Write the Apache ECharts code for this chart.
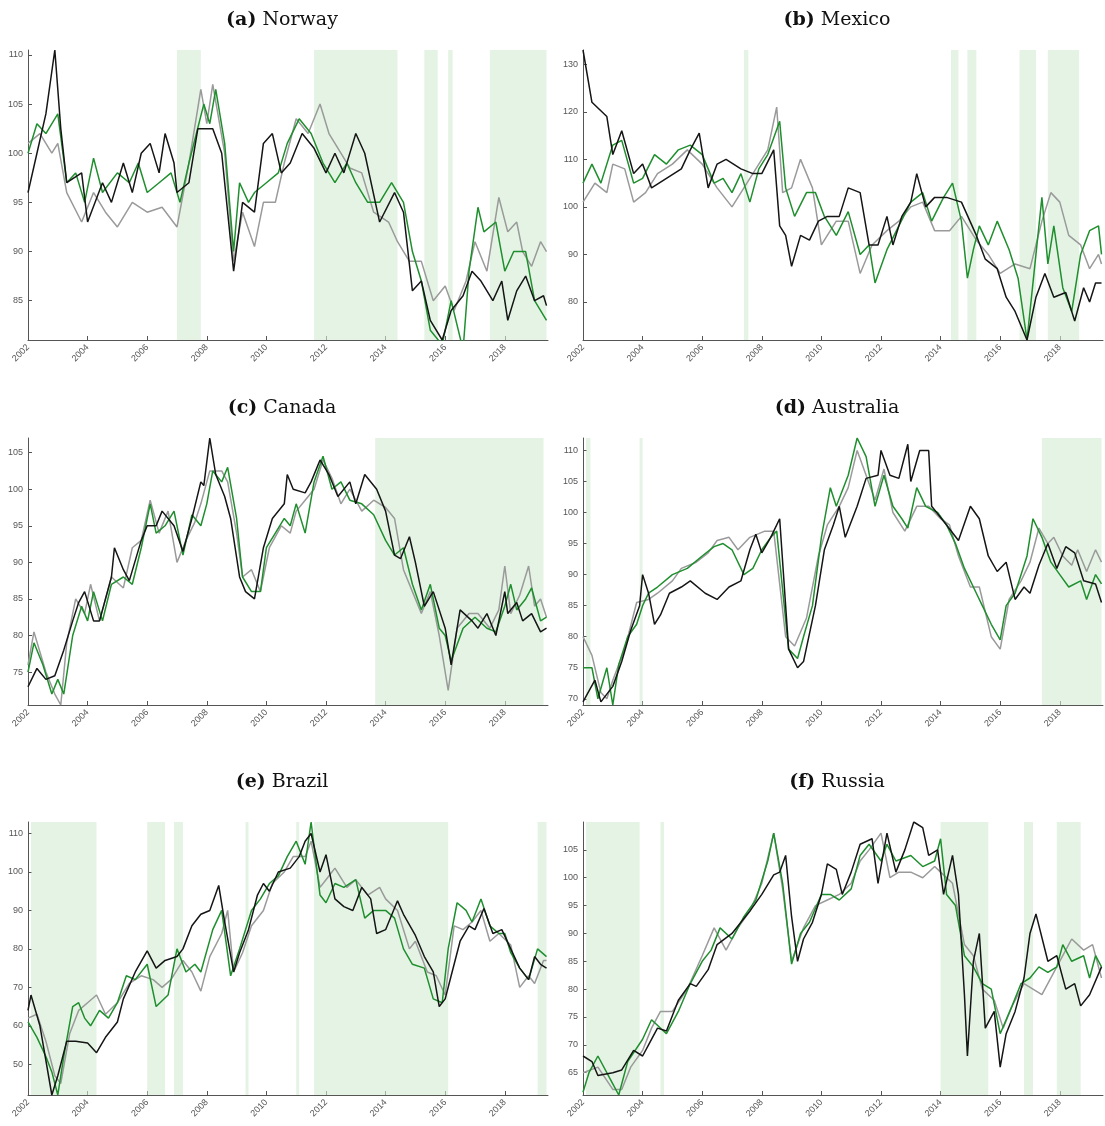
<!DOCTYPE html>
<html><head><meta charset="utf-8">
<script src="https://cdn.jsdelivr.net/npm/echarts@6/dist/echarts.min.js"></script>
<style>html,body{margin:0;background:#fff}#c{width:1105px;height:1126px}</style>
</head><body><div id="c"></div>
<script>
// panel titles and y scales
var titles = [['(a)', 'Norway'], ['(b)', 'Mexico'], ['(c)', 'Canada'], ['(d)', 'Australia'], ['(e)', 'Brazil'], ['(f)', 'Russia']];
var yMin = [81, 72, 70.5, 69, 42, 61];
var yMax = [110.5, 133, 107, 112, 113, 110];
var yTicks = [[85, 90, 95, 100, 105, 110], [80, 90, 100, 110, 120, 130], [75, 80, 85, 90, 95, 100, 105],
  [70, 75, 80, 85, 90, 95, 100, 105, 110], [50, 60, 70, 80, 90, 100, 110], [65, 70, 75, 80, 85, 90, 95, 100, 105]];
var xTicks = [2002, 2004, 2006, 2008, 2010, 2012, 2014, 2016, 2018];

// shaded periods [start, end]
var shadeNorway = [[2007.0, 2007.8], [2011.6, 2014.4], [2015.3, 2015.75], [2016.1, 2016.25], [2017.5, 2019.4]];
var shadeMexico = [[2007.4, 2007.55], [2014.35, 2014.6], [2014.9, 2015.2], [2016.65, 2017.2], [2017.6, 2018.65]];
var shadeCanada = [[2013.65, 2019.3]];
var shadeAustralia = [[2002.1, 2002.25], [2003.9, 2004.0], [2017.4, 2019.4]];
var shadeBrazil = [[2002.1, 2004.3], [2006.0, 2006.6], [2006.9, 2007.2], [2009.3, 2009.4], [2011.0, 2011.1], [2011.6, 2016.1], [2019.1, 2019.4]];
var shadeRussia = [[2002.1, 2003.9], [2004.6, 2004.72], [2014.0, 2015.6], [2016.8, 2017.1], [2017.9, 2018.7]];

var norwayBlack = [[2002,96],[2002.3,100],[2002.6,104],[2002.9,110.5],[2003.1,102.5],[2003.3,97],[2003.8,98],[2004,93],[2004.5,97],[2004.8,95],[2005.2,99],[2005.5,96],[2005.8,100],[2006.1,101],[2006.4,98],[2006.6,102],[2006.9,99],[2007,96],[2007.4,97],[2007.7,102.5],[2008.2,102.5],[2008.5,100],[2008.9,88],[2009.2,95],[2009.6,94],[2009.9,101],[2010.2,102],[2010.5,98],[2010.8,99],[2011.2,102],[2011.6,100.5],[2012,98],[2012.3,100],[2012.6,98],[2013,102],[2013.3,100],[2013.8,93],[2014.3,96],[2014.6,94],[2014.9,86],[2015.2,87],[2015.5,83],[2015.9,81],[2016.2,84],[2016.6,85.5],[2016.9,88],[2017.2,87],[2017.6,85],[2017.9,87],[2018.1,83],[2018.4,86],[2018.7,87.5],[2019,85],[2019.3,85.5],[2019.4,84.5]];
var norwayGreen = [[2002,100],[2002.3,103],[2002.6,102],[2003,104],[2003.3,97],[2003.6,98],[2003.9,95],[2004.2,99.5],[2004.5,96],[2005,98],[2005.4,97],[2005.7,99],[2006,96],[2006.4,97],[2006.8,98],[2007.1,95],[2007.4,99],[2007.9,105],[2008.1,103],[2008.3,106.5],[2008.6,101],[2008.9,90],[2009.1,97],[2009.4,95],[2009.6,96],[2010,97],[2010.4,98],[2010.7,101],[2011.1,103.5],[2011.5,102],[2011.9,99],[2012.3,97],[2012.7,99],[2013,97],[2013.4,95],[2013.8,95],[2014.2,97],[2014.6,95],[2014.9,90],[2015.2,87],[2015.5,82],[2015.9,80.5],[2016.2,85],[2016.6,80],[2016.8,88],[2017.1,94.5],[2017.3,92],[2017.7,93],[2018,88],[2018.3,90],[2018.7,90],[2019,85],[2019.4,83]];
var norwayGray = [[2002,101],[2002.4,102],[2002.8,100],[2003,101],[2003.3,96],[2003.8,93],[2004.2,96],[2004.6,94],[2005,92.5],[2005.5,95],[2006,94],[2006.5,94.5],[2007,92.5],[2007.4,99],[2007.8,106.5],[2008,103],[2008.2,107],[2008.6,100],[2008.9,89],[2009.2,94],[2009.6,90.5],[2009.9,95],[2010.3,95],[2010.6,99],[2011,103.5],[2011.4,102],[2011.8,105],[2012.1,102],[2012.5,100],[2012.8,98.5],[2013.2,98],[2013.6,94],[2014.1,93],[2014.4,91],[2014.8,89],[2015.2,89],[2015.6,85],[2016,86.5],[2016.3,84],[2016.7,87],[2017,91],[2017.4,88],[2017.8,95.5],[2018.1,92],[2018.4,93],[2018.6,90],[2018.9,88.5],[2019.2,91],[2019.4,90]];

var mexicoBlack = [[2002,133],[2002.3,122],[2002.8,119],[2003,111],[2003.3,116],[2003.7,107],[2004,109],[2004.3,104],[2004.8,106],[2005.3,108],[2005.6,112],[2005.9,115.5],[2006.2,104],[2006.5,109],[2006.8,110],[2007.3,108],[2007.7,107],[2008,107],[2008.4,112],[2008.6,96],[2008.8,94],[2009,87.5],[2009.3,94],[2009.6,93],[2009.9,97],[2010.2,98],[2010.6,98],[2010.9,104],[2011.3,103],[2011.6,92],[2011.9,92],[2012.2,98],[2012.4,92],[2012.7,98],[2013,101],[2013.2,107],[2013.5,100],[2013.8,102],[2014.2,102],[2014.7,101],[2015.2,94],[2015.5,89],[2015.9,87],[2016.2,81],[2016.5,78],[2016.9,72],[2017.2,81],[2017.5,86],[2017.8,81],[2018.2,82],[2018.5,76],[2018.8,83],[2019,80],[2019.2,84],[2019.4,84]];
var mexicoGreen = [[2002,105],[2002.3,109],[2002.6,105],[2003,113],[2003.3,114],[2003.7,105],[2004,106],[2004.4,111],[2004.8,109],[2005.2,112],[2005.6,113],[2006,111],[2006.4,105],[2006.7,106],[2007,103],[2007.3,107],[2007.6,101],[2007.9,108],[2008.2,111],[2008.6,118],[2008.8,104],[2009.1,98],[2009.5,103],[2009.8,103],[2010.1,98],[2010.5,94],[2010.9,99],[2011.3,90],[2011.6,92],[2011.8,84],[2012.2,91],[2012.6,96],[2013,101],[2013.4,103],[2013.7,97],[2014.1,102],[2014.4,105],[2014.7,97],[2014.9,85],[2015.1,91],[2015.3,96],[2015.6,92],[2015.9,97],[2016.3,91],[2016.6,85],[2016.9,72],[2017.2,90],[2017.4,102],[2017.6,88],[2017.8,96],[2018.1,83],[2018.4,78],[2018.7,90],[2019,95],[2019.3,96],[2019.4,90]];
var mexicoGray = [[2002,101],[2002.4,105],[2002.8,103],[2003,109],[2003.4,108],[2003.7,101],[2004.1,103],[2004.5,107],[2005,109],[2005.5,112],[2006,109],[2006.5,104],[2007,100],[2007.4,104],[2007.8,108],[2008.2,112],[2008.5,121],[2008.7,103],[2009,104],[2009.3,110],[2009.7,104],[2010,92],[2010.5,97],[2010.9,97],[2011.3,86],[2011.7,92],[2012.2,95],[2012.6,97],[2013,100],[2013.4,101],[2013.8,95],[2014.3,95],[2014.7,98],[2015.2,93],[2015.6,90],[2016,86],[2016.5,88],[2017,87],[2017.4,97],[2017.7,103],[2018,101],[2018.3,94],[2018.7,92],[2019,87],[2019.3,90],[2019.4,88]];

var canadaBlack = [[2002,73],[2002.3,75.5],[2002.6,74],[2002.9,74.5],[2003.2,78],[2003.5,82],[2003.7,84.5],[2003.9,86],[2004.2,82],[2004.4,82],[2004.8,88],[2004.9,92],[2005.2,89],[2005.4,87.5],[2005.8,93],[2006,95],[2006.3,95],[2006.5,97],[2006.9,95],[2007.2,91.5],[2007.5,96],[2007.8,101],[2007.9,100.5],[2008.1,107],[2008.3,102],[2008.6,99],[2008.8,96],[2009.1,88],[2009.3,86],[2009.6,85],[2009.9,92],[2010.2,96],[2010.6,98],[2010.7,102],[2010.9,100],[2011.3,99.5],[2011.5,101],[2011.8,104],[2012.1,102],[2012.4,99],[2012.8,101],[2013,98],[2013.3,102],[2013.7,100],[2014,97],[2014.3,91],[2014.5,90.5],[2014.8,93.5],[2015,90],[2015.3,84],[2015.6,86],[2016,81],[2016.2,76],[2016.5,83.5],[2016.9,82],[2017.1,81],[2017.4,83],[2017.7,80],[2018,86],[2018.1,83],[2018.4,84.5],[2018.6,82],[2018.9,83],[2019.2,80.5],[2019.4,81]];
var canadaGreen = [[2002,75],[2002.2,79],[2002.5,76],[2002.8,72],[2003,74],[2003.2,72],[2003.5,80],[2003.8,84],[2004,82],[2004.2,86],[2004.5,82],[2004.8,87],[2005.2,88],[2005.5,87],[2005.8,92],[2006.1,98],[2006.3,94],[2006.6,95],[2006.9,97],[2007.2,91],[2007.5,96.5],[2007.8,95],[2008,98],[2008.2,102.5],[2008.5,101],[2008.7,103],[2009,96],[2009.2,88],[2009.5,86],[2009.8,86],[2010,92],[2010.3,94],[2010.6,96],[2010.8,95],[2011,98],[2011.3,94],[2011.6,101],[2011.9,104.5],[2012.2,100],[2012.5,101],[2012.8,98.5],[2013.2,98],[2013.6,96.5],[2014,93],[2014.3,91],[2014.6,92],[2014.9,87],[2015.2,83.5],[2015.5,87],[2015.8,81],[2016,80],[2016.2,76.5],[2016.6,81],[2017,82.5],[2017.4,81],[2017.7,80.5],[2018,84],[2018.2,87],[2018.4,83.5],[2018.7,85],[2018.9,86.5],[2019.2,82],[2019.4,82.5]];
var canadaGray = [[2002,76],[2002.2,80.5],[2002.6,75],[2002.9,72],[2003.1,70.5],[2003.3,79],[2003.6,85],[2003.9,83],[2004.1,87],[2004.4,82],[2004.8,88],[2005.2,86.5],[2005.5,92],[2005.8,93],[2006.1,98.5],[2006.4,94],[2006.7,97],[2007,90],[2007.3,93],[2007.6,95.5],[2007.8,98],[2008.1,102.5],[2008.5,102.5],[2008.7,101],[2009,94],[2009.2,88],[2009.5,89],[2009.8,86],[2010.1,92],[2010.5,95],[2010.8,94],[2011,97],[2011.3,98.5],[2011.6,100],[2011.9,104],[2012.2,101.5],[2012.5,98],[2012.8,100],[2013.2,97],[2013.6,98.5],[2014,97.5],[2014.3,96],[2014.6,89],[2014.9,86],[2015.2,83],[2015.5,86],[2015.8,80],[2016.1,72.5],[2016.4,81],[2016.8,83],[2017.1,83],[2017.5,81],[2017.8,83.5],[2018,89.5],[2018.2,83],[2018.5,85.5],[2018.8,89.5],[2019,84],[2019.2,85],[2019.4,82.5]];

var australiaBlack = [[2002,69.5],[2002.4,73],[2002.6,69.5],[2003,72],[2003.3,76],[2003.6,81],[2003.9,85],[2004,90],[2004.2,87],[2004.4,82],[2004.6,83.5],[2004.9,87],[2005.3,88],[2005.6,89],[2006.1,87],[2006.5,86],[2006.9,88],[2007.3,89],[2007.6,94],[2007.8,96.5],[2008,93.5],[2008.3,96],[2008.6,99],[2008.9,78],[2009.2,75],[2009.4,76],[2009.8,85],[2010.1,94],[2010.4,98],[2010.6,101],[2010.8,96],[2011.2,101],[2011.5,105.5],[2011.9,106],[2012,110],[2012.3,106],[2012.6,105.5],[2012.9,111],[2013,105],[2013.3,110],[2013.6,110],[2013.7,101],[2014.2,98],[2014.6,95.5],[2015,101],[2015.3,99],[2015.6,93],[2015.9,90.5],[2016.2,92],[2016.5,86],[2016.8,88],[2017,87],[2017.3,91.5],[2017.6,95],[2017.9,91],[2018.2,94.5],[2018.5,93.5],[2018.8,89],[2019.2,88.5],[2019.4,85.5]];
var australiaGreen = [[2002,75],[2002.3,75],[2002.5,70],[2002.8,75],[2003,69],[2003.2,75.5],[2003.5,80],[2003.8,82],[2004,85],[2004.2,87],[2004.5,88],[2005,90],[2005.5,91],[2006,93],[2006.4,94.5],[2006.7,95],[2007,94],[2007.4,90],[2007.7,91],[2008,94],[2008.3,96],[2008.5,97],[2008.9,78],[2009.2,76.5],[2009.4,80],[2009.7,85],[2010,96],[2010.3,104],[2010.5,101],[2010.9,106],[2011.2,112],[2011.5,109],[2011.8,101],[2012.1,106],[2012.4,101],[2012.7,99],[2012.9,97.5],[2013.2,104],[2013.5,101],[2013.9,100],[2014.2,98],[2014.5,95],[2014.8,91],[2015.2,87],[2015.4,85],[2015.7,82],[2016,79.5],[2016.2,85],[2016.5,87],[2016.9,93],[2017.1,99],[2017.4,96],[2017.7,92],[2018,90],[2018.3,88],[2018.7,89],[2018.9,86],[2019.2,90],[2019.4,88.5]];
var australiaGray = [[2002,80],[2002.3,77],[2002.6,71],[2002.8,70],[2003,73],[2003.4,78],[2003.8,85.5],[2004.2,86],[2004.5,87],[2005,89],[2005.3,91],[2005.8,92],[2006.2,93.5],[2006.5,95.5],[2006.9,96],[2007.2,94],[2007.6,96],[2008.1,97],[2008.4,97],[2008.8,80],[2009.1,78.5],[2009.5,83],[2009.9,93],[2010.2,98],[2010.6,101],[2010.9,104],[2011.2,110],[2011.5,106],[2011.8,102],[2012.1,107],[2012.4,100],[2012.8,97],[2013.2,101],[2013.6,101],[2014,99],[2014.3,98],[2014.6,93],[2015,88],[2015.3,88],[2015.7,80],[2016,78],[2016.3,86],[2016.7,89],[2017,92],[2017.3,97.5],[2017.6,95],[2017.8,96],[2018.1,93],[2018.4,91.5],[2018.6,94],[2018.9,90.5],[2019.2,94],[2019.4,92]];

var brazilBlack = [[2002,64],[2002.1,68],[2002.4,60],[2002.8,42],[2003,47],[2003.3,56],[2003.6,56],[2004,55.5],[2004.3,53],[2004.6,57],[2005,61],[2005.2,67],[2005.6,74],[2006,79.5],[2006.3,75],[2006.6,77],[2007,78],[2007.2,80],[2007.5,86],[2007.8,89],[2008.1,90],[2008.4,96.5],[2008.6,87],[2008.9,74],[2009.1,79],[2009.4,85],[2009.7,94],[2009.9,97],[2010.1,95],[2010.4,100],[2010.8,101],[2011.1,104],[2011.3,108],[2011.5,110],[2011.8,100],[2012,104.5],[2012.3,93],[2012.6,91],[2012.9,90],[2013.2,96],[2013.5,93],[2013.7,84],[2014,85],[2014.4,92.5],[2014.6,89],[2015,83.5],[2015.3,78],[2015.6,74],[2015.8,65],[2016,67],[2016.2,73],[2016.5,82],[2016.8,86],[2017,85],[2017.3,90.5],[2017.6,84],[2017.9,85],[2018.2,80],[2018.5,75],[2018.8,72],[2019,78],[2019.2,76],[2019.4,75]];
var brazilGreen = [[2002,61],[2002.3,57],[2002.6,52],[2002.8,48],[2003,42],[2003.2,52],[2003.5,65],[2003.7,66],[2003.9,62],[2004.1,60],[2004.4,64],[2004.7,62],[2005,66],[2005.3,73],[2005.6,72],[2006,76],[2006.3,65],[2006.7,68],[2007,80],[2007.3,74],[2007.6,76],[2007.8,74],[2008.2,85],[2008.5,90],[2008.8,73],[2009.1,80],[2009.5,90],[2009.8,93],[2010.1,97],[2010.4,99],[2010.7,104],[2011,108],[2011.3,102],[2011.5,113],[2011.8,94],[2012,92],[2012.3,97],[2012.6,96],[2013,98],[2013.3,88],[2013.6,90],[2014,90],[2014.3,88],[2014.6,80],[2014.9,76],[2015.3,75],[2015.6,67],[2015.9,66],[2016.1,80],[2016.4,92],[2016.7,90],[2016.9,87],[2017.2,93],[2017.5,86],[2017.8,84],[2018,84],[2018.2,79],[2018.5,75],[2018.8,72],[2019.1,80],[2019.4,78]];
var brazilGray = [[2002,62],[2002.3,63],[2002.6,56],[2002.9,47],[2003.1,45],[2003.4,58],[2003.7,64],[2004,66],[2004.3,68],[2004.6,63],[2005,66],[2005.4,71],[2005.8,73],[2006.2,72],[2006.5,70],[2006.8,72],[2007.2,77],[2007.5,74],[2007.8,69],[2008.1,78],[2008.5,84],[2008.7,90],[2008.9,74],[2009.2,79],[2009.5,86],[2009.9,90],[2010.2,97],[2010.6,100],[2010.9,104],[2011.3,104],[2011.5,108],[2011.8,96],[2012,98],[2012.3,101],[2012.7,96],[2013,98],[2013.4,94],[2013.8,96],[2014,93],[2014.4,90],[2014.8,80],[2015,82],[2015.4,74],[2015.7,73],[2016,68],[2016.3,86],[2016.6,85],[2016.9,87],[2017.2,90],[2017.5,82],[2017.8,84],[2018.2,81],[2018.5,70],[2018.8,73],[2019,71],[2019.3,77],[2019.4,77]];

var russiaBlack = [[2002,68],[2002.3,67],[2002.5,64.5],[2003,65],[2003.3,65.5],[2003.7,69],[2004,68],[2004.2,70],[2004.5,73],[2004.8,72.5],[2005.2,78],[2005.6,81],[2005.8,80.5],[2006.2,83.5],[2006.5,88],[2007,90],[2007.3,92],[2007.6,94],[2008,97],[2008.4,100.5],[2008.6,101],[2008.8,104],[2009,93],[2009.2,85],[2009.4,89],[2009.7,92],[2010,97],[2010.2,102.5],[2010.5,101.5],[2010.7,97],[2011,101],[2011.3,106],[2011.7,107],[2011.9,99],[2012.2,108],[2012.5,101],[2012.8,105],[2013.1,110],[2013.4,109],[2013.6,104],[2013.9,105],[2014.1,97],[2014.4,104],[2014.6,97],[2014.8,79],[2014.9,68],[2015.1,85],[2015.3,90],[2015.5,73],[2015.8,76],[2016,66],[2016.2,72],[2016.5,76],[2016.8,82],[2017,90],[2017.2,93.5],[2017.6,85],[2017.9,86],[2018.2,80],[2018.5,81],[2018.7,77],[2019,79],[2019.4,84]];
var russiaGreen = [[2002,61.5],[2002.2,65],[2002.5,68],[2003,63],[2003.2,61],[2003.5,67],[2004,71],[2004.3,74.5],[2004.8,72],[2005.2,76],[2005.6,81],[2006,85],[2006.3,87],[2006.6,91],[2007,89],[2007.4,93],[2007.8,96],[2008.2,103],[2008.4,108],[2008.7,99],[2009,84.5],[2009.3,90],[2009.6,92],[2010,97],[2010.3,97],[2010.6,96],[2011,98],[2011.3,104],[2011.6,106],[2012,103],[2012.2,106],[2012.5,103],[2013,104],[2013.4,102],[2013.8,103],[2014,107],[2014.2,97],[2014.5,95],[2014.8,86],[2015.1,84],[2015.4,81],[2015.7,80],[2016,72],[2016.4,77],[2016.7,81],[2017,82],[2017.3,84],[2017.6,83],[2017.9,84],[2018.1,88],[2018.4,85],[2018.8,86],[2019,82],[2019.2,86],[2019.4,84]];
var russiaGray = [[2002,65],[2002.5,66],[2003,62],[2003.3,62],[2003.6,66],[2004,69],[2004.3,73],[2004.6,76],[2005,76],[2005.5,80],[2006,86],[2006.4,91],[2006.8,87],[2007.2,91],[2007.6,94],[2008,99],[2008.4,108],[2008.7,98],[2009,85],[2009.4,91],[2009.8,95],[2010.2,96],[2010.6,97],[2011,99],[2011.3,103],[2011.6,105],[2012,108],[2012.3,100],[2012.6,101],[2013,101],[2013.4,100],[2013.8,102],[2014,101],[2014.4,99],[2014.8,88],[2015.1,86],[2015.4,80],[2015.8,78],[2016.1,73],[2016.4,77],[2016.8,81],[2017.1,80],[2017.4,79],[2017.8,83],[2018.1,86],[2018.4,89],[2018.8,87],[2019.1,88],[2019.4,82]];

var blacks = [norwayBlack, mexicoBlack, canadaBlack, australiaBlack, brazilBlack, russiaBlack];
var greens = [norwayGreen, mexicoGreen, canadaGreen, australiaGreen, brazilGreen, russiaGreen];
var grays = [norwayGray, mexicoGray, canadaGray, australiaGray, brazilGray, russiaGray];
var shades = [shadeNorway, shadeMexico, shadeCanada, shadeAustralia, shadeBrazil, shadeRussia];

var chart = echarts.init(document.getElementById('c'));
var rowTop = [50, 438, 822], rowH = [290, 267, 273], titleY = [6, 394, 768];
var grids = [], xAxes = [], yAxes = [], series = [], tit = [];
for (var i = 0; i < 6; i++) {
  var r = Math.floor(i / 2), c = i % 2;
  grids.push({left: c ? 583 : 28, width: 520, top: rowTop[r], height: rowH[r]});
  tit.push({text: '{b|' + titles[i][0] + '} ' + titles[i][1], left: c ? 832 : 277, top: titleY[r], textAlign: 'center',
    textStyle: {fontFamily: 'DejaVu Serif', fontSize: 19, fontWeight: 'normal', color: '#111',
      rich: {b: {fontFamily: 'DejaVu Serif', fontSize: 19, fontWeight: 'bold', color: '#111'}}}});
  xAxes.push({type: 'value', gridIndex: i, min: 2002, max: 2019.45, splitLine: {show: false},
    axisLine: {lineStyle: {color: '#555'}}, axisTick: {customValues: xTicks, length: 4, inside: true},
    axisLabel: {customValues: xTicks, rotate: 45, fontSize: 9, color: '#555', margin: 6,
      formatter: function (v) { return String(v); }}});
  yAxes.push({type: 'value', gridIndex: i, min: yMin[i], max: yMax[i], splitLine: {show: false},
    axisLine: {show: true, lineStyle: {color: '#555'}}, axisTick: {show: true, customValues: yTicks[i], length: 4, inside: true},
    axisLabel: {customValues: yTicks[i], fontSize: 9, color: '#555', margin: 5}});
  series.push({type: 'line', xAxisIndex: i, yAxisIndex: i, data: [], silent: true,
    markArea: {silent: true, itemStyle: {color: 'rgba(210,235,210,0.6)'},
      data: shades[i].map(function (s) { return [{xAxis: s[0]}, {xAxis: s[1]}]; })}});
  [[grays[i], '#9a9a9a'], [greens[i], '#1f8f2e'], [blacks[i], '#151515']].forEach(function (p) {
    series.push({type: 'line', xAxisIndex: i, yAxisIndex: i, data: p[0], showSymbol: false,
      lineStyle: {color: p[1], width: 1.5}, animation: false, clip: true});
  });
}
chart.setOption({animation: false, title: tit, grid: grids, xAxis: xAxes, yAxis: yAxes, series: series});
</script></body></html>
